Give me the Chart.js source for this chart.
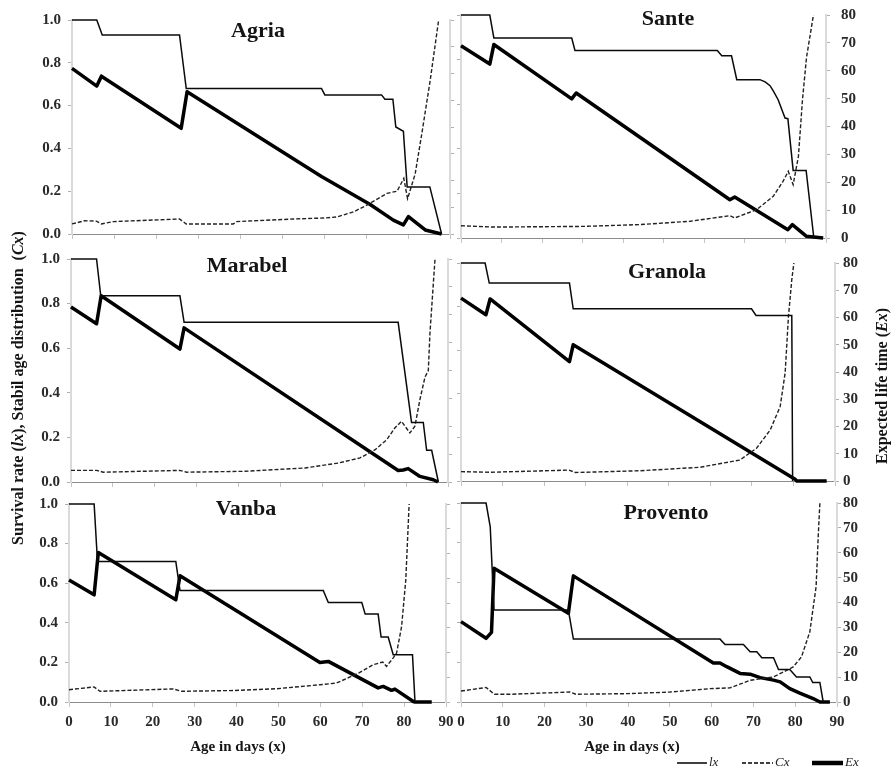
<!DOCTYPE html>
<html>
<head>
<meta charset="utf-8">
<script src="https://cdn.jsdelivr.net/npm/chart.js@4.4.1/dist/chart.umd.min.js"></script>
<style>
html,body{margin:0;padding:0;background:#fff;}
#wrap{position:relative;width:895px;height:767px;overflow:hidden;background:#fff;}
#wrap canvas{position:absolute;left:0;top:0;}
</style>
</head>
<body>
<div id="wrap"></div>
<script>
// ---------- tick labels / categories ----------
const xTickValues = [0, 10, 20, 30, 40, 50, 60, 70, 80, 90];
const xTickLabels = ['0', '10', '20', '30', '40', '50', '60', '70', '80', '90'];
const yTickValues = [0, 0.2, 0.4, 0.6, 0.8, 1.0];
const yTickLabels = ['0.0', '0.2', '0.4', '0.6', '0.8', '1.0'];
const y2TickValues = [0, 10, 20, 30, 40, 50, 60, 70, 80];
const y2TickLabels = ['0', '10', '20', '30', '40', '50', '60', '70', '80'];
const panelNames = ['Agria', 'Sante', 'Marabel', 'Granola', 'Vanba', 'Provento'];
const seriesNames = ['lx', 'Cx', 'Ex'];

// ---------- series values: [age in days, value] ----------
// lx and Cx on the left scale (0-1), Ex on the right scale (0-80)
const lxAgria = [[0,1],[5.9,1],[7.2,0.93],[25.6,0.93],[27.2,0.68],[59.4,0.68],[60.2,0.65],[73.7,0.65],[74.5,0.63],[76.4,0.63],[77.1,0.5],[78.9,0.48],[79.8,0.22],[85.2,0.22],[88,0]];
const cxAgria = [[0,0.047],[3,0.062],[5.8,0.06],[7,0.047],[9.8,0.058],[25.6,0.07],[27.2,0.047],[38.4,0.047],[39.2,0.058],[52.7,0.07],[60.3,0.075],[63.1,0.08],[67.1,0.104],[70.3,0.136],[75,0.19],[77.4,0.2],[79,0.26],[79.9,0.165],[81.7,0.28],[83.3,0.47],[85.3,0.72],[87.3,1.0]];
const exAgria = [[0,61.9],[5.9,55.3],[7,59],[26,39.5],[27.4,53.2],[59.4,21.5],[71,11],[76.5,5.2],[78.9,3.4],[80.1,6.5],[84.1,1.5],[88,0]];

const lxSante = [[0,1],[7.1,1],[8.1,0.897],[27.3,0.897],[28.1,0.841],[63.2,0.841],[64.3,0.817],[66.7,0.817],[68,0.71],[73.7,0.71],[75,0.7],[76.2,0.683],[77,0.66],[78.2,0.62],[79.9,0.538],[80.6,0.535],[81.9,0.303],[85.1,0.303],[87,0]];
const cxSante = [[0,0.055],[8,0.049],[30,0.052],[44,0.06],[56.5,0.075],[66.3,0.1],[67.5,0.09],[72.9,0.127],[77,0.187],[79.4,0.254],[80.7,0.299],[81.9,0.239],[83.2,0.366],[84.2,0.62],[85.2,0.81],[86.9,1.0]];
const exSante = [[0,69],[7.1,62.4],[8.1,69.4],[27.3,49.9],[28.4,52],[66.3,13.7],[67.5,14.7],[80.6,3],[81.7,4.8],[85.2,0.6],[89.3,0]];

const lxMarabel = [[0,1],[6.1,1],[7.1,0.835],[26,0.835],[27,0.716],[78.1,0.716],[81.3,0.267],[84.1,0.267],[84.9,0.142],[86.1,0.142],[87.7,0]];
const cxMarabel = [[0,0.052],[6.1,0.052],[7.7,0.044],[26,0.052],[27.6,0.044],[41.5,0.048],[55.9,0.063],[63.8,0.085],[69,0.108],[72.6,0.145],[75.4,0.19],[77.3,0.242],[78.9,0.272],[80.9,0.22],[82.1,0.25],[83.3,0.37],[84.5,0.47],[85.3,0.5],[85.7,0.67],[86.5,0.89],[86.9,1.0]];
const exMarabel = [[0,62.8],[6.1,56.8],[7.2,66.8],[26,47.7],[27,55.3],[78.1,4.1],[79.3,4.3],[80.5,4.8],[83.3,2],[86.5,0.8],[87.6,0]];

const lxGranola = [[0,1],[5.8,1],[6.8,0.908],[26.1,0.908],[27,0.79],[69.9,0.79],[71,0.759],[79.6,0.759],[79.8,0]];
const cxGranola = [[0,0.043],[7,0.04],[26,0.05],[27.5,0.039],[43.1,0.047],[57.5,0.063],[67.1,0.096],[71.1,0.15],[74.4,0.234],[76.8,0.341],[78,0.495],[78.8,0.755],[79.6,0.923],[80.1,1.0]];
const exGranola = [[0,67.1],[6,61],[7,66.8],[26.1,43.8],[27,50],[80.4,0.6],[80.8,0],[88,0]];

const lxVanba = [[0,1],[6,1],[6.8,0.709],[25.5,0.709],[26.5,0.563],[60.7,0.563],[61.9,0.502],[69.9,0.502],[70.7,0.444],[73.8,0.444],[74.5,0.328],[76.2,0.328],[77.4,0.239],[82,0.239],[82.6,0]];
const cxVanba = [[0,0.062],[6,0.076],[7.4,0.054],[24.9,0.066],[26.9,0.054],[39.2,0.058],[49.6,0.067],[59.9,0.087],[63.9,0.096],[69.1,0.146],[72.6,0.188],[74.9,0.202],[75.8,0.18],[77.4,0.223],[78.2,0.247],[79.4,0.381],[80.4,0.617],[81.2,1.0]];
const exVanba = [[0,49.3],[6,43.3],[7,60.4],[25.5,41.3],[26.5,51],[59.9,16],[61.9,16.4],[73.8,5.7],[75,6.3],[77,4.7],[77.8,5.2],[82.2,0.2],[82.6,0],[86.6,0]];

const lxProvento = [[0,1],[6,1],[7,0.88],[7.9,0.462],[25.7,0.462],[26.9,0.316],[62,0.316],[63.2,0.289],[67.6,0.289],[69.2,0.252],[70.8,0.252],[72,0.222],[74.8,0.222],[76,0.163],[78.7,0.163],[80.3,0.126],[83.5,0.126],[84.2,0.098],[85.9,0.098],[86.7,0]];
const cxProvento = [[0,0.055],[6,0.073],[8,0.039],[12,0.039],[26,0.05],[27.5,0.039],[40,0.042],[50,0.05],[59.6,0.067],[64.4,0.071],[69.2,0.109],[74.8,0.126],[77.2,0.151],[79.5,0.176],[81.5,0.227],[83.5,0.353],[85,0.58],[85.5,0.83],[85.9,1.0]];
const exProvento = [[0,32.3],[6,25.6],[7.3,28],[7.9,53.8],[25.7,35.7],[26.9,50.7],[60.4,15.7],[62,15.7],[63.6,14.2],[66.8,11.5],[69.2,11.2],[71.6,9.8],[74.8,8.8],[76.4,8.1],[78.7,5.4],[81.1,3.6],[84.3,1.4],[85.9,0],[88.3,0]];

// ---------- layout (pixel placement of each panel) ----------
const W = 895, H = 767;
const SERIF = '"Liberation Serif", "Times New Roman", serif';
const panelLayout = [
  { col: 0, row: 0, box: [72, 20, 450, 234], title: [258, 37], y2pad: 6 },
  { col: 1, row: 0, box: [461, 15, 826, 238], title: [668, 25], y2pad: 11 },
  { col: 0, row: 1, box: [71, 259, 448, 482], title: [247, 272], y2pad: 6 },
  { col: 1, row: 1, box: [461, 263, 835, 481], title: [667, 278], y2pad: 4 },
  { col: 0, row: 2, box: [69, 504, 446, 702], title: [246, 515], y2pad: 6 },
  { col: 1, row: 2, box: [461, 503, 837, 702], title: [666, 519], y2pad: 2 }
];
const panelSeries = [
  [lxAgria, cxAgria, exAgria],
  [lxSante, cxSante, exSante],
  [lxMarabel, cxMarabel, exMarabel],
  [lxGranola, cxGranola, exGranola],
  [lxVanba, cxVanba, exVanba],
  [lxProvento, cxProvento, exProvento]
];

function pts(a) { return a.map(p => ({ x: p[0], y: p[1] })); }
function tickFont() { return { family: SERIF, size: 15, weight: 'bold' }; }
function zeroPad(s) { s.paddingLeft = 0; s.paddingRight = 0; s.paddingTop = 0; s.paddingBottom = 0; }

const panelTitlePlugin = {
  id: 'panelTitle',
  afterDraw(chart, args, opts) {
    const ctx = chart.ctx;
    ctx.save();
    ctx.font = 'bold 22px ' + SERIF;
    ctx.fillStyle = '#141414';
    ctx.textAlign = 'center';
    ctx.textBaseline = 'alphabetic';
    ctx.fillText(opts.text, opts.x, opts.y);
    ctx.restore();
  }
};

function drawSegments(ctx, segs, cx, cy, rot) {
  ctx.save();
  ctx.translate(cx, cy);
  ctx.rotate(rot);
  let total = 0;
  segs.forEach(s => { ctx.font = s[1]; total += ctx.measureText(s[0]).width; });
  let x = -total / 2;
  ctx.textBaseline = 'middle';
  ctx.textAlign = 'left';
  segs.forEach(s => { ctx.font = s[1]; ctx.fillText(s[0], x, 0); x += ctx.measureText(s[0]).width; });
  ctx.restore();
}

const figureTextPlugin = {
  id: 'figureText',
  afterDraw(chart) {
    const ctx = chart.ctx;
    const B = 'bold 16px ' + SERIF, BI = 'italic bold 16px ' + SERIF;
    ctx.save();
    ctx.fillStyle = '#141414';
    drawSegments(ctx, [['Survival rate (', B], ['lx', BI], ['), Stabil age distribution  (', B], ['Cx', BI], [')', B]], 19, 388, -Math.PI / 2);
    drawSegments(ctx, [['Expected life time (', B], ['Ex', BI], [')', B]], 883, 386, -Math.PI / 2);
    ctx.font = 'bold 15px ' + SERIF;
    ctx.textAlign = 'center';
    ctx.textBaseline = 'alphabetic';
    ctx.fillText('Age in days (x)', 238, 751);
    ctx.fillText('Age in days (x)', 632, 751);
    // legend
    const ly = 763;
    const items = [
      { x0: 677, x1: 707, w: 1.5, dash: [], tx: 709 },
      { x0: 742, x1: 773, w: 1.5, dash: [4, 2], tx: 775 },
      { x0: 812, x1: 843, w: 4.5, dash: [], tx: 845 }
    ];
    items.forEach((it, i) => {
      ctx.beginPath();
      ctx.setLineDash(it.dash);
      ctx.lineWidth = it.w;
      ctx.strokeStyle = '#000';
      ctx.moveTo(it.x0, ly);
      ctx.lineTo(it.x1, ly);
      ctx.stroke();
      ctx.setLineDash([]);
      ctx.font = 'italic 13px ' + SERIF;
      ctx.textAlign = 'left';
      ctx.textBaseline = 'middle';
      ctx.fillStyle = '#222';
      ctx.fillText(seriesNames[i], it.tx, ly);
    });
    ctx.restore();
  }
};

const wrap = document.getElementById('wrap');

panelNames.forEach((name, i) => {
  const L = panelLayout[i];
  const [lx, cx, ex] = panelSeries[i];
  const [bl, bt, br, bb] = L.box;
  const leftCol = L.col === 0;
  const bottomRow = L.row === 2;
  const leftW = leftCol ? 40 : 8;
  const rightW = leftCol ? 8 : 40;
  const bottomH = bottomRow ? 30 : 8;

  const canvas = document.createElement('canvas');
  canvas.width = W; canvas.height = H;
  wrap.appendChild(canvas);

  const plugins = [panelTitlePlugin];
  if (i === panelNames.length - 1) plugins.push(figureTextPlugin);

  new Chart(canvas, {
    type: 'line',
    data: {
      datasets: [
        { label: seriesNames[0], data: pts(lx), yAxisID: 'y', borderColor: '#0a0a0a', borderWidth: 1.5,
          pointRadius: 0, tension: 0, clip: false, fill: false },
        { label: seriesNames[1], data: pts(cx), yAxisID: 'y', borderColor: '#222', borderWidth: 1.4,
          borderDash: [4, 2], pointRadius: 0, tension: 0, clip: false, fill: false },
        { label: seriesNames[2], data: pts(ex), yAxisID: 'y2', borderColor: '#000', borderWidth: 3.5,
          borderJoinStyle: 'round', pointRadius: 0, tension: 0, clip: false, fill: false }
      ]
    },
    options: {
      responsive: false,
      animation: false,
      devicePixelRatio: 1,
      events: [],
      layout: { padding: { left: bl - leftW, right: W - br - rightW, top: bt, bottom: H - bb - bottomH } },
      scales: {
        x: {
          type: 'linear', min: 0, max: 90,
          afterBuildTicks: s => { s.ticks = xTickValues.map(v => ({ value: v })); },
          afterFit: s => { s.height = bottomH; zeroPad(s); },
          grid: { drawOnChartArea: false, drawTicks: true, tickLength: 5, color: '#c4c4c4', lineWidth: 1 },
          border: { display: true, color: '#8c8c8c', width: 1 },
          ticks: { display: bottomRow, padding: 6, autoSkip: false, maxRotation: 0, font: tickFont(), color: '#2a2a2a',
                   callback: (v, k) => xTickLabels[k] }
        },
        y: {
          type: 'linear', position: 'left', min: 0, max: 1,
          afterBuildTicks: s => { s.ticks = yTickValues.map(v => ({ value: v })); },
          afterFit: s => { s.width = leftW; zeroPad(s); },
          grid: { drawOnChartArea: false, drawTicks: true, tickLength: 4, color: '#b0b0b0', lineWidth: 1 },
          border: { display: true, color: '#dadada', width: 2 },
          ticks: { display: leftCol, padding: 7, font: tickFont(), color: '#2a2a2a',
                   callback: (v, k) => yTickLabels[k] }
        },
        y2: {
          type: 'linear', position: 'right', min: 0, max: 80,
          afterBuildTicks: s => { s.ticks = y2TickValues.map(v => ({ value: v })); },
          afterFit: s => { s.width = rightW; zeroPad(s); },
          grid: { drawOnChartArea: false, drawTicks: true, tickLength: 4, color: '#b0b0b0', lineWidth: 1 },
          border: { display: true, color: '#dadada', width: 2 },
          ticks: { display: !leftCol, padding: L.y2pad, font: tickFont(), color: '#2a2a2a',
                   callback: (v, k) => y2TickLabels[k] }
        }
      },
      plugins: {
        legend: { display: false },
        tooltip: { enabled: false },
        panelTitle: { text: name, x: L.title[0], y: L.title[1] }
      }
    },
    plugins: plugins
  });
});
</script>
</body>
</html>
